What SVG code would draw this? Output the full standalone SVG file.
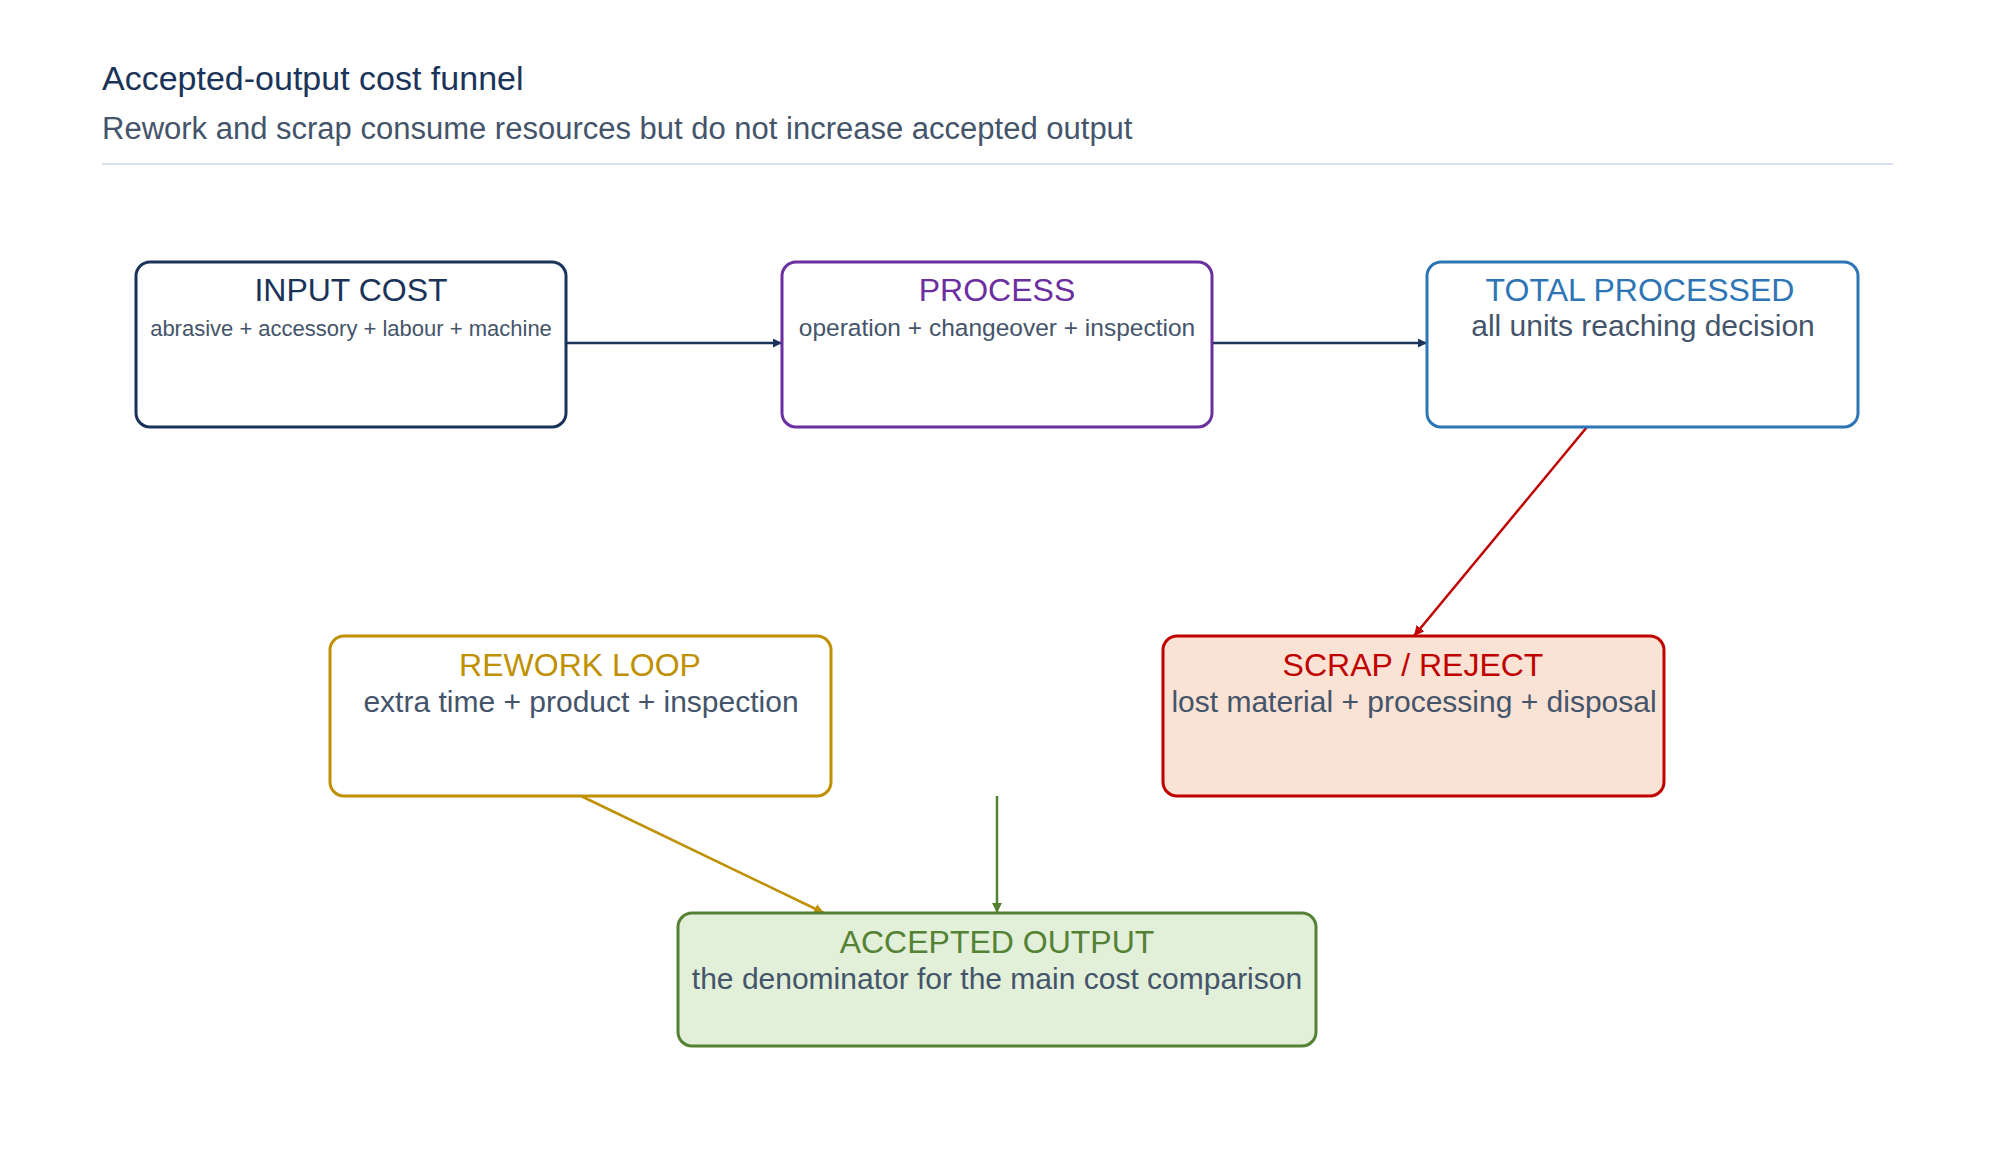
<svg xmlns="http://www.w3.org/2000/svg" width="1994" height="1161" viewBox="0 0 1994 1161">
<style>
text{font-family:"Liberation Sans",Arial,sans-serif}
.t{font-size:32px;text-anchor:middle}
.s{font-size:30px;text-anchor:middle;fill:#44546a}
.box{stroke-width:3}
</style>
<defs>
<marker id="mn" viewBox="0 0 10 10" refX="10" refY="5" markerWidth="9" markerHeight="9" orient="auto" markerUnits="userSpaceOnUse"><path d="M0,0L10,5L0,10z" fill="#1a3358"/></marker>
<marker id="mr" viewBox="0 0 10 10" refX="10" refY="5" markerWidth="10" markerHeight="10" orient="auto" markerUnits="userSpaceOnUse"><path d="M0,0L10,5L0,10z" fill="#c00000"/></marker>
<marker id="mg" viewBox="0 0 10 10" refX="10" refY="5" markerWidth="10" markerHeight="10" orient="auto" markerUnits="userSpaceOnUse"><path d="M0,0L10,5L0,10z" fill="#bf9000"/></marker>
<marker id="mgr" viewBox="0 0 10 10" refX="10" refY="5" markerWidth="10" markerHeight="10" orient="auto" markerUnits="userSpaceOnUse"><path d="M0,0L10,5L0,10z" fill="#548235"/></marker>
</defs>
<rect width="1994" height="1161" fill="#fff"/>
<text x="102" y="90" font-size="34" fill="#1a3358">Accepted-output cost funnel</text>
<text x="102" y="139" font-size="31" fill="#44546a">Rework and scrap consume resources but do not increase accepted output</text>
<line x1="102" y1="164" x2="1893" y2="164" stroke="#d6def0" stroke-width="2"/>
<g id="connectors" fill="none" stroke-width="2.5">
<line x1="566" y1="343" x2="782" y2="343" stroke="#1a3358" marker-end="url(#mn)"/>
<line x1="1212" y1="343" x2="1427" y2="343" stroke="#1a3358" marker-end="url(#mn)"/>
<line x1="1587" y1="427" x2="1414" y2="636" stroke="#c00000" marker-end="url(#mr)"/>
<line x1="581" y1="796" x2="824" y2="913" stroke="#bf9000" marker-end="url(#mg)"/>
<line x1="997" y1="796" x2="997" y2="913" stroke="#548235" marker-end="url(#mgr)"/>
</g>
<g id="input"><rect class="box" x="136" y="262" width="430" height="165" rx="14" fill="#fff" stroke="#1a3358"/>
<text class="t" x="351" y="301" fill="#1a3358">INPUT COST</text><text x="351" y="336" font-size="22" text-anchor="middle" fill="#44546a">abrasive + accessory + labour + machine</text></g>
<g id="process"><rect class="box" x="782" y="262" width="430" height="165" rx="14" fill="#fff" stroke="#6b2fa0"/>
<text class="t" x="997" y="301" fill="#6b2fa0">PROCESS</text><text x="997" y="336" font-size="24.5" text-anchor="middle" fill="#44546a">operation + changeover + inspection</text></g>
<g id="total"><rect class="box" x="1427" y="262" width="431" height="165" rx="14" fill="#fff" stroke="#2e75b6"/>
<text class="t" x="1640" y="301" fill="#2e75b6">TOTAL PROCESSED</text><text class="s" x="1643" y="336">all units reaching decision</text></g>
<g id="rework"><rect class="box" x="330" y="636" width="501" height="160" rx="14" fill="#fff" stroke="#bf9000"/>
<text class="t" x="580" y="676" fill="#bf9000">REWORK LOOP</text><text class="s" x="581" y="712">extra time + product + inspection</text></g>
<g id="scrap"><rect class="box" x="1163" y="636" width="501" height="160" rx="14" fill="#fae2d5" stroke="#c00000"/>
<text class="t" x="1413" y="676" fill="#c00000">SCRAP / REJECT</text><text class="s" x="1414" y="712">lost material + processing + disposal</text></g>
<g id="accepted"><rect class="box" x="678" y="913" width="638" height="133" rx="14" fill="#e2efd9" stroke="#548235"/>
<text class="t" x="997" y="953" fill="#548235">ACCEPTED OUTPUT</text><text class="s" x="997" y="989">the denominator for the main cost comparison</text></g>
</svg>
